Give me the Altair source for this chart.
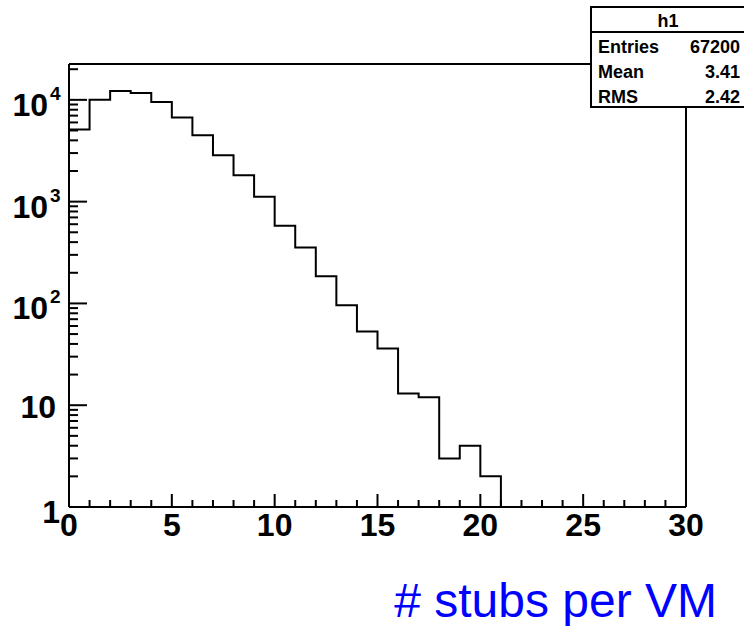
import altair as alt
import pandas as pd

# ---------------- data ----------------
counts = [5100, 10000, 12200, 11700, 9500, 6700, 4500, 2850, 1820, 1120,
          580, 355, 185, 96, 53, 36, 13, 12, 3, 4,
          2, 0, 0, 0, 0, 0, 0, 0, 0, 0]
bin_width = 1
x_range = [0, 30]
y_range = [1, 22500]

x_major = [0, 5, 10, 15, 20, 25, 30]
x_labels = ["0", "5", "10", "15", "20", "25", "30"]
x_minor = [v for v in range(0, 31) if v % 5]
y_major = [1, 10, 100, 1000, 10000]
y_minor = [m * 10 ** k for k in range(5) for m in range(2, 10) if m * 10 ** k <= y_range[1]]

y_one_vals = [1]
y_one_text = ["1"]
y_ten_vals = [10]
y_ten_text = ["10"]
y_exp_vals = [100, 1000, 10000]
y_exp_base = ["10", "10", "10"]
y_exp_text = ["2", "3", "4"]

stat_title = "h1"
stat_names = ["Entries", "Mean", "RMS"]
stat_values = ["67200", "3.41", "2.42"]
x_title = "# stubs per VM"

# ---------------- layout ----------------
W, H = 617, 443
FONT = "Liberation Sans"

rows = []
for i, c in enumerate(counts):
    lo = x_range[0] + i * bin_width
    v = max(c, y_range[0])
    rows.append({"x": lo, "y": v, "o": 2 * i})
    rows.append({"x": lo + bin_width, "y": v, "o": 2 * i + 1})
step_df = pd.DataFrame(rows)

xs = alt.Scale(domain=x_range, nice=False, zero=False)
ys = alt.Scale(type="log", domain=y_range, nice=False)
one = pd.DataFrame({"a": [0]})

hist = alt.Chart(step_df).mark_line(color="black", strokeWidth=2, clip=True).encode(
    x=alt.X("x:Q", scale=xs, axis=None),
    y=alt.Y("y:Q", scale=ys, axis=None),
    order="o:Q",
)

def xticks(vals, length):
    return alt.Chart(pd.DataFrame({"v": vals})).mark_rule(color="black", strokeWidth=2).encode(
        x=alt.X("v:Q", scale=xs, axis=None), y=alt.value(H), y2=alt.value(H - length))

def yticks(vals, length):
    return alt.Chart(pd.DataFrame({"v": vals})).mark_rule(color="black", strokeWidth=2).encode(
        y=alt.Y("v:Q", scale=ys, axis=None), x=alt.value(0), x2=alt.value(length))

xlab = alt.Chart(pd.DataFrame({"v": x_major, "t": x_labels})).mark_text(
    font=FONT, fontWeight="bold", fontSize=32, baseline="top", align="center", dy=4 + H, color="black"
).encode(x=alt.X("v:Q", scale=xs, axis=None), y=alt.value(0), text="t:N")

def ylabels(vals, texts, size, align, dx, dy):
    return alt.Chart(pd.DataFrame({"v": vals, "t": texts})).mark_text(
        font=FONT, fontWeight="bold", fontSize=size, baseline="middle", align=align, dx=dx, dy=dy, color="black"
    ).encode(y=alt.Y("v:Q", scale=ys, axis=None), x=alt.value(0), text="t:N")

ylab_one = ylabels(y_one_vals, y_one_text, 32, "right", -9, 6)
ylab_ten = ylabels(y_ten_vals, y_ten_text, 32, "right", -13, 3)
ylab_base = ylabels(y_exp_vals, y_exp_base, 32, "right", -21, 6)
ylab_exp = ylabels(y_exp_vals, y_exp_text, 19, "left", -19, -6)

def rule(x, x2, y, y2):
    return alt.Chart(one).mark_rule(color="black", strokeWidth=2).encode(
        x=alt.value(x), x2=alt.value(x2), y=alt.value(y), y2=alt.value(y2))

frame = [rule(0, W, 0, 0), rule(0, W, H, H), rule(0, 0, 0, H), rule(W, W, 0, H)]

# stats box
BX0, BX1, BY0, BY1 = 522, 690, -57, 43
box = alt.Chart(one).mark_rect(fill="white", stroke="black", strokeWidth=2).encode(
    x=alt.value(BX0), x2=alt.value(BX1), y=alt.value(BY0), y2=alt.value(BY1))
sep = rule(BX0, BX1, -32, -32)
head = alt.Chart(one).mark_text(font=FONT, fontWeight="bold", fontSize=18, align="center",
                                baseline="alphabetic", color="black").encode(
    x=alt.value(599), y=alt.value(-37), text=alt.value(stat_title))
stat_layers = []
for i, (n, v) in enumerate(zip(stat_names, stat_values)):
    yy = -11 + 25 * i
    stat_layers.append(alt.Chart(one).mark_text(font=FONT, fontWeight="bold", fontSize=18, align="left",
                                                baseline="alphabetic", color="black").encode(
        x=alt.value(529), y=alt.value(yy), text=alt.value(n)))
    stat_layers.append(alt.Chart(one).mark_text(font=FONT, fontWeight="bold", fontSize=18, align="right",
                                                baseline="alphabetic", color="black").encode(
        x=alt.value(671), y=alt.value(yy), text=alt.value(v)))

title = alt.Chart(one).mark_text(font=FONT, fontSize=48, align="right", baseline="alphabetic",
                                 color="#0000ff").encode(
    x=alt.value(648), y=alt.value(553), text=alt.value(x_title))

chart = alt.layer(
    hist,
    xticks(x_major, 13), xticks(x_minor, 7),
    yticks(y_major, 18), yticks(y_minor, 9),
    *frame,
    xlab, ylab_one, ylab_ten, ylab_base, ylab_exp,
    box, sep, head, *stat_layers,
    title,
).properties(
    width=W, height=H,
    autosize=alt.AutoSizeParams(type="none"),
    padding={"left": 69, "top": 64, "right": 58, "bottom": 119},
    background="white",
).configure_view(stroke=None)

chart.save("out.html", embed_options={"renderer": "svg", "actions": False})
